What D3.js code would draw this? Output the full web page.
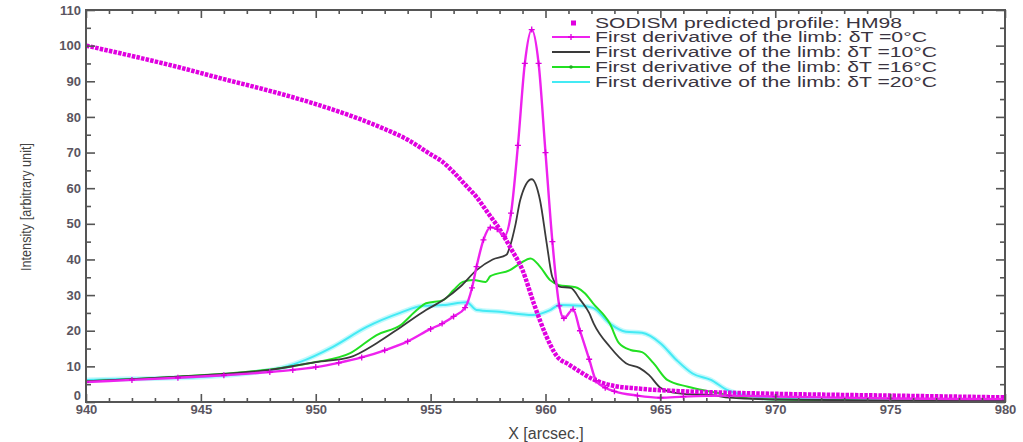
<!DOCTYPE html>
<html>
<head>
<meta charset="utf-8">
<script src="https://cdn.jsdelivr.net/npm/d3@7"></script>
<style>
  html, body { margin: 0; padding: 0; background: #fff; }
  svg { display: block; }
</style>
</head>
<body>
<svg id="chart" width="1023" height="442"></svg>
<script>
// ---------------- data ----------------
const xTicks = [940, 945, 950, 955, 960, 965, 970, 975, 980];
const yTicks = [0, 10, 20, 30, 40, 50, 60, 70, 80, 90, 100, 110];

const hm98X = [940,942,944,946,948,950,951,952,953,954,955,955.5,956,956.5,957,957.5,958,958.5,959,959.5,960,960.5,961,961.5,962,962.5,963,964,965,966,968,970,975,980];
const hm98Y = [100,97.1,94.0,90.6,87.3,83.6,81.5,79.2,76.6,73.6,69.5,67.5,64.5,61,57.5,53,48.5,43,37,27.5,19,12.8,10.6,8.5,6.6,5.3,4.5,3.8,3.3,3.0,2.6,2.3,1.8,1.3];

const d0X = [940,942,944,946,948,949,950,951,952,953,954,955,955.5,956,956.5,956.8,957,957.3,957.6,957.9,958.2,958.5,958.8,959.1,959.4,959.7,960,960.3,960.6,960.8,961.2,961.5,961.9,962.2,962.6,963,964,965,966,968,970,975,980];
const d0Y = [5.6,6.2,6.8,7.5,8.4,9.0,9.8,11,12.5,14.5,17,20.5,22,24,26.5,32,38,45.5,49,48.5,46.5,53,72,95,104.5,95,70,45,27,23.5,26,20,12,6,4,3,1.8,1.2,1.5,1.8,1.5,1.0,0.8];

const d10X = [940,942,944,946,948,949.3,950,951.5,952.65,953.7,954.8,955.55,956.3,957,957.7,958.3,958.45,958.7,958.9,959.4,959.76,960.05,960.3,960.6,961.1,961.5,961.9,962.1,962.8,963.5,964.1,964.5,965,965.4,966,967.2,968,970,975,980];
const d10Y = [5.8,6.4,7.1,7.9,9.0,10.4,11.2,12.6,16.5,21,25.8,28.6,32.4,37,40,41.3,43.6,50,56.7,62.5,56.7,44.6,35,32.4,32,28.8,25,22,15.5,10.9,9.5,7.6,4,2.9,2.3,2,1.2,0.7,0.4,0.3];

const d16X = [940,942,944,946,948,949.3,950,951.5,952.65,953.7,954.4,954.8,955.55,956,956.4,956.85,957.4,957.6,958.45,958.9,959.35,959.76,960.2,960.6,961.1,961.4,961.7,962.07,962.8,963.2,963.7,964.2,964.7,965.3,966.2,967.2,967.9,969,972,975,980];
const d16Y = [5.8,6.4,7.1,7.9,9.1,10.4,11.2,13.7,18.8,21.6,25.8,27.7,28.6,31.4,33.7,34.2,33.7,35.3,37,38.9,40.3,38,34.2,32.8,32.4,32,30.6,27.7,22,16.5,14.6,14,10.9,6.2,4.3,2.9,2,1,0.5,0.4,0.3];

const d20X = [940,942,945,948.44,949.3,950.75,952.2,953.67,954.67,955.55,956.57,957,958,959.45,960.2,960.6,961.5,962.07,962.8,963.5,964.2,965,965.7,966.4,967.2,967.9,968.6,970,975,980];
const d20Y = [6.2,6.5,7,9.5,11.2,15.5,21,25,27,27.2,28,25.8,25.3,24.4,25.8,27.2,27,26.4,22,19.7,19.4,16.5,11.8,8,6.2,3.4,2,1,0.5,0.3];

const legendLabels = [
  "SODISM predicted profile: HM98",
  "First derivative of the limb: \u03B4T =0\u00B0C",
  "First derivative of the limb: \u03B4T =10\u00B0C",
  "First derivative of the limb: \u03B4T =16\u00B0C",
  "First derivative of the limb: \u03B4T =20\u00B0C"
];
const xTitle = "X [arcsec.]";
const yTitle = "Intensity [arbitrary unit]";

// ---------------- drawing ----------------
const svg = d3.select("#chart");
const pL = 86, pR = 1005, pT = 10, pB = 402;
const x = d3.scaleLinear().domain([940, 980]).range([pL, pR]);
const y = d3.scaleLinear().domain([0, 110]).range([pB, pT]);

const axisColor = "#555";
const labelColor = "#5a5560";

svg.append("defs").append("clipPath").attr("id", "clip")
  .append("rect").attr("x", pL).attr("y", pT).attr("width", pR - pL).attr("height", pB - pT);

const zip = (xs, ys) => xs.map((v, i) => [v, ys[i]]);
const line = d3.line().x(d => x(d[0])).y(d => y(d[1])).curve(d3.curveMonotoneX);

const plot = svg.append("g").attr("clip-path", "url(#clip)");

// cyan (glow)
plot.append("path").datum(zip(d20X, d20Y)).attr("d", line)
  .attr("fill", "none").attr("stroke", "#a6f7fb").attr("stroke-width", 5).attr("opacity", 0.7);
plot.append("path").datum(zip(d20X, d20Y)).attr("d", line)
  .attr("fill", "none").attr("stroke", "#44eaf4").attr("stroke-width", 2);

// green
plot.append("path").datum(zip(d16X, d16Y)).attr("d", line)
  .attr("fill", "none").attr("stroke", "#22e022").attr("stroke-width", 2);

// black
plot.append("path").datum(zip(d10X, d10Y)).attr("d", line)
  .attr("fill", "none").attr("stroke", "#3a3a3a").attr("stroke-width", 1.8);

// HM98 profile: thick dotted magenta
plot.append("path").datum(zip(hm98X, hm98Y)).attr("d", line)
  .attr("fill", "none").attr("stroke", "#e000e0").attr("stroke-width", 4.5)
  .attr("stroke-dasharray", "3.5,1.2");

// dT=0: magenta with + markers
plot.append("path").datum(zip(d0X, d0Y)).attr("d", line)
  .attr("fill", "none").attr("stroke", "#ee22ee").attr("stroke-width", 2.4);
plot.selectAll(".m0").data(zip(d0X, d0Y)).join("path")
  .attr("class", "m0")
  .attr("transform", d => `translate(${x(d[0])},${y(d[1])})`)
  .attr("d", "M-3,0H3M0,-3V3")
  .attr("stroke", "#dd00dd").attr("stroke-width", 1.3).attr("fill", "none");

// ---------------- axes ----------------
const xMinor = d3.range(940, 981, 1).filter(v => v % 5 !== 0);
const yMinor = d3.range(5, 110, 10);

function styleAxis(g) {
  g.select(".domain").remove();
  g.selectAll(".tick line").attr("stroke", axisColor).attr("stroke-width", 1.6);
  g.selectAll("text").attr("fill", labelColor)
    .style("font-family", "Liberation Sans, Arial, sans-serif")
    .style("font-weight", "bold").style("font-size", "13px");
}

svg.append("g").attr("transform", `translate(0,${pB})`)
  .call(d3.axisBottom(x).tickValues(xTicks).tickSize(-8).tickPadding(3).tickFormat(d3.format("d")))
  .call(styleAxis);
svg.append("g").attr("transform", `translate(0,${pB})`)
  .call(d3.axisBottom(x).tickValues(xMinor).tickSize(-4).tickFormat(""))
  .call(styleAxis);
svg.append("g").attr("transform", `translate(0,${pT})`)
  .call(d3.axisTop(x).tickValues(xTicks).tickSize(-8).tickFormat(""))
  .call(styleAxis);
svg.append("g").attr("transform", `translate(0,${pT})`)
  .call(d3.axisTop(x).tickValues(xMinor).tickSize(-4).tickFormat(""))
  .call(styleAxis);

const yAxisG = svg.append("g").attr("transform", `translate(${pL},0)`)
  .call(d3.axisLeft(y).tickValues(yTicks).tickSize(-9).tickPadding(5).tickFormat(d3.format("d")))
  .call(styleAxis);
// lift the "0" label a little so it sits above "940"
yAxisG.selectAll(".tick").filter(d => d === 0).select("text").attr("dy", "-0.2em");
svg.append("g").attr("transform", `translate(${pL},0)`)
  .call(d3.axisLeft(y).tickValues(yMinor).tickSize(-5).tickFormat(""))
  .call(styleAxis);
svg.append("g").attr("transform", `translate(${pR},0)`)
  .call(d3.axisRight(y).tickValues(yTicks).tickSize(-9).tickFormat(""))
  .call(styleAxis);
svg.append("g").attr("transform", `translate(${pR},0)`)
  .call(d3.axisRight(y).tickValues(yMinor).tickSize(-5).tickFormat(""))
  .call(styleAxis);

// frame
svg.append("rect").attr("x", pL).attr("y", pT).attr("width", pR - pL).attr("height", pB - pT)
  .attr("fill", "none").attr("stroke", axisColor).attr("stroke-width", 2);

// titles
svg.append("text").attr("x", 546).attr("y", 439)
  .attr("text-anchor", "middle").attr("fill", "#444")
  .style("font-family", "Liberation Sans, Arial, sans-serif").style("font-size", "16px")
  .text(xTitle);
svg.append("text").attr("transform", `translate(31,207) rotate(-90)`)
  .attr("text-anchor", "middle").attr("fill", "#444")
  .style("font-family", "Liberation Sans Narrow, Arial Narrow, sans-serif").style("font-size", "15px")
  .attr("textLength", 128).attr("lengthAdjust", "spacingAndGlyphs")
  .text(yTitle);

// ---------------- legend ----------------
const legRows = [23, 37, 52, 67, 82];
const legText = [307, 332, 342, 342, 342];
const leg = svg.append("g");
leg.append("rect").attr("x", 571).attr("y", legRows[0] - 2.5).attr("width", 5).attr("height", 5).attr("fill", "#e000e0");
leg.append("line").attr("x1", 552).attr("x2", 590).attr("y1", legRows[1]).attr("y2", legRows[1])
  .attr("stroke", "#ee22ee").attr("stroke-width", 2);
leg.append("path").attr("transform", `translate(571,${legRows[1]})`).attr("d", "M-3,0H3M0,-3V3")
  .attr("stroke", "#dd00dd").attr("stroke-width", 1.3);
leg.append("line").attr("x1", 552).attr("x2", 590).attr("y1", legRows[2]).attr("y2", legRows[2])
  .attr("stroke", "#3a3a3a").attr("stroke-width", 1.8);
leg.append("line").attr("x1", 552).attr("x2", 590).attr("y1", legRows[3]).attr("y2", legRows[3])
  .attr("stroke", "#22e022").attr("stroke-width", 2);
leg.append("circle").attr("cx", 571).attr("cy", legRows[3]).attr("r", 1.8).attr("fill", "#22aa22");
leg.append("line").attr("x1", 552).attr("x2", 590).attr("y1", legRows[4]).attr("y2", legRows[4])
  .attr("stroke", "#44eaf4").attr("stroke-width", 2);

legendLabels.forEach((t, i) => {
  leg.append("text").attr("x", 595).attr("y", legRows[i] + 5)
    .attr("fill", "#3a3440")
    .style("font-family", "Liberation Sans, Arial, sans-serif").style("font-size", "14px")
    .attr("textLength", legText[i]).attr("lengthAdjust", "spacingAndGlyphs")
    .text(t);
});
</script>
</body>
</html>
